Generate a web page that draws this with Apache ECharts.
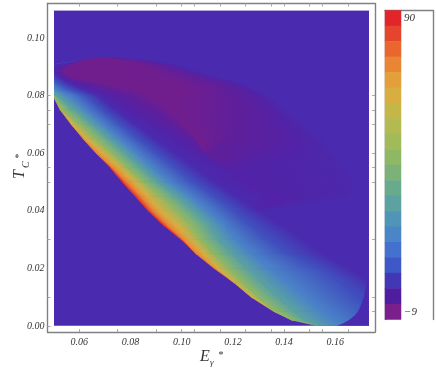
<!DOCTYPE html>
<html>
<head>
<meta charset="utf-8">
<style>
  html, body { margin: 0; padding: 0; background: #fff; }
  #chart { width: 436px; height: 376px; }
</style>
<script src="https://cdn.jsdelivr.net/npm/echarts@6/dist/echarts.min.js"></script>
</head>
<body>
<div id="chart"></div>
<script>
// all E and T values are in thousandths, the labels divide by 1000
var tRows = [0, 2, 5, 10, 15, 20, 25, 30, 35, 40, 45, 50, 55, 60, 65, 70, 75, 80, 82, 84, 86, 88, 90, 92, 93];

// contour lines, one E per row of tRows, left to right
var redLine = [153.2, 143.1, 136, 127.1, 120.4, 112.6, 105.6, 99.7, 92.7, 86.8, 81.8, 76.7, 72, 66.5, 61.4, 56.8, 52.5, 49.7, 48.6, 47, 44.6, 44.6, 44.6, 59.5, 66.1];
var orangeLine = [153.2, 143.1, 136, 127.1, 120.4, 112.6, 105.6, 100.5, 94.6, 88.8, 84.1, 78.6, 72.8, 66.5, 61.4, 56.8, 52.5, 49.7, 48.6, 47, 44.6, 44.6, 44.6, 59.5, 66.1];
var yellowLine = [153.2, 143.1, 136, 127.1, 120.4, 113.8, 108.7, 103.2, 97.8, 91.5, 86.4, 81.4, 75.5, 69.3, 62.2, 56.8, 52.5, 49.7, 48.6, 47, 44.6, 44.6, 44.6, 59.5, 66.1];
var greenLine = [153.2, 143.1, 136.4, 129.8, 123.9, 118.1, 112.6, 107.5, 103.7, 98.3, 91.9, 84.9, 79, 72.8, 66.5, 60.3, 53.2, 49.7, 48.6, 47, 44.6, 44.6, 44.6, 59.5, 66.1];
var tealLine = [153.2, 148.2, 144.3, 137.2, 131.4, 125.5, 119.6, 114.2, 110.3, 104.6, 98, 90.4, 84.1, 77.9, 71.6, 65, 58.3, 50.9, 48.6, 47, 44.6, 44.6, 44.6, 59.5, 66.1];
var blueLine = [162.2, 159.1, 154.8, 148.2, 141.5, 134.5, 127.5, 121.2, 116.6, 110.4, 103.7, 95.4, 88.8, 82.5, 75.9, 69.3, 62.6, 56, 50.9, 47.8, 46.2, 44.6, 44.6, 59.5, 66.1];
var darkBlueLine = [185.3, 179.4, 175.5, 167.7, 161.8, 153.2, 141.5, 133.7, 126.5, 120, 112.4, 104.4, 97.4, 89.9, 82.9, 75.9, 68.9, 62.6, 56.4, 52.5, 49.3, 47, 44.6, 59.5, 66.1];
var indigoLine = [200.9, 197, 193.1, 185.3, 175.5, 165.7, 156, 148.2, 139.6, 129.8, 121.6, 113, 105.2, 97.4, 89.6, 82.1, 74.3, 67.3, 61.8, 56.4, 52.5, 50.5, 46.2, 59.5, 66.1];
var purple1Line = [200.9, 197, 193.1, 185.3, 175.5, 165.7, 156, 148.2, 139.6, 129.8, 136.4, 124.7, 118.1, 107.1, 98.6, 89.6, 79.8, 72, 65.7, 59.1, 53.6, 51.3, 53.6, 59.9, 66.5];
var purple2Line = [200.9, 197, 193.1, 185.3, 175.5, 165.7, 156, 148.2, 139.6, 129.8, 136.4, 124.7, 118.1, 109.1, 105.2, 97.4, 89.6, 79.8, 72, 64.2, 55.6, 52.5, 54.4, 60.3, 66.9];
var purple3Line = [200.9, 197, 193.1, 185.3, 175.5, 165.7, 156, 148.2, 139.6, 129.8, 136.4, 124.7, 118.1, 109.1, 105.2, 101.3, 95.4, 87.6, 79.8, 71.2, 58.7, 54.2, 55.6, 61.4, 67.7];
var purple3EndLine = [200.9, 197, 193.1, 185.3, 175.5, 165.7, 156, 148.2, 139.6, 129.8, 136.4, 124.7, 118.1, 109.1, 105.2, 101.3, 97.4, 101.3, 102.5, 100.1, 95.4, 89.6, 85.7, 77.9, 71.2];
var purple2EndLine = [200.9, 197, 193.1, 185.3, 175.5, 165.7, 156, 148.2, 139.6, 129.8, 136.4, 124.7, 118.1, 109.1, 120.8, 120.8, 122.8, 120.8, 118.1, 114.2, 107.1, 99.3, 93.5, 83.7, 74];
var purple1EndLine = [200.9, 197, 193.1, 185.3, 175.5, 165.7, 156, 148.2, 139.6, 129.8, 136.4, 124.7, 118.1, 140.4, 144.3, 140.4, 136.4, 129.8, 126.7, 120.8, 112.6, 104.4, 97.8, 87.6, 75.9];
var outerLine = [200.9, 197, 193.1, 185.3, 175.5, 165.7, 156, 148.2, 139.6, 129.8, 165.7, 166.5, 163.4, 158.3, 153.6, 147, 140, 132.9, 128.6, 123.2, 115, 107.1, 100.5, 90.4, 77.9];

// right hand limit of the coloured region near the bottom
var boundaryT = [0, 1, 2, 3.5, 5, 7.5, 10, 15, 20, 25, 30];
var boundaryE = [160.7, 163.4, 165.4, 167.5, 168.9, 170.2, 171.2, 172.2, 172.8, 173.2, 173.4];

var lines = [redLine, orangeLine, yellowLine, greenLine, tealLine, blueLine, darkBlueLine, indigoLine,
  purple1Line, purple2Line, purple3Line, purple3EndLine, purple2EndLine, purple1EndLine, outerLine];
var lineColors = ['#e4352a', '#ea8535', '#d8ae40', '#8fb865', '#5ba2a0', '#4a82c8', '#4050be', '#4a2aae',
  '#5322a6', '#5f1f9b', '#701e8e', '#701e8e', '#5f1f9b', '#5322a6', '#4c28ab'];

var xLabelValues = [60, 80, 100, 120, 140, 160];
var xTickValues = [60, 75, 90, 100, 105, 115, 125, 135, 140, 150, 155, 165];
var yLabelValues = [0, 20, 40, 60, 80, 100];
var yTickLeft = [0, 10, 30, 50, 55, 70, 75, 80];
var yTickRight = [5, 10, 30, 50, 55, 60, 70, 75, 80];

var barLabels = ['90', '\u22129'];
var barColors = ['#e1252a', '#e5452d', '#e9662f', '#ea8535', '#e3a03a', '#d8ae40', '#c5b648', '#b3ba50', '#a1bb5a', '#8fb865',
  '#7cb277', '#68aa8c', '#5ba2a0', '#5095b5', '#4a85c5', '#4470cf', '#3f58c7', '#4237b5', '#4f1d9f', '#7a1f8c'];

var bgColor = '#4a2aae';
var frameColor = '#808080';
var tickColor = '#a8a8a8';
var labelFont = { fontFamily: 'Liberation Serif', fontStyle: 'italic', fontSize: 10, color: '#333' };

function fixed2(v) { return (v / 1000).toFixed(2); }

// one piece of band between contour i and i+1, rows j and j+1
function renderBand(params, api) {
  var i = api.value(0), j = api.value(1);
  var a = api.coord([lines[i][j], tRows[j]]);
  var b = api.coord([lines[i + 1][j], tRows[j]]);
  var c = api.coord([lines[i + 1][j + 1], tRows[j + 1]]);
  var d = api.coord([lines[i][j + 1], tRows[j + 1]]);
  var m1 = [(a[0] + d[0]) / 2, (a[1] + d[1]) / 2];
  var m2 = [(b[0] + c[0]) / 2, (b[1] + c[1]) / 2];
  // gradient runs across the band, not along it
  var dx = (a[0] - d[0] + b[0] - c[0]) / 2, dy = (a[1] - d[1] + b[1] - c[1]) / 2;
  var nx = dy, ny = -dx;
  var len = Math.sqrt(nx * nx + ny * ny) || 1;
  nx /= len; ny /= len;
  var w = (m2[0] - m1[0]) * nx + (m2[1] - m1[1]) * ny;
  var fill = new echarts.graphic.LinearGradient(m1[0], m1[1], m1[0] + nx * w, m1[1] + ny * w, [
    { offset: 0, color: lineColors[i] },
    { offset: 1, color: lineColors[i + 1] }
  ], true);
  return {
    type: 'polygon',
    shape: { points: [a, b, c, d] },
    style: { fill: fill, stroke: fill, lineWidth: 0.7 }
  };
}

function renderBoundary(params, api) {
  var pts = [];
  boundaryT.forEach(function (t, k) { pts.push(api.coord([boundaryE[k], t])); });
  pts.push(api.coord([180, boundaryT[boundaryT.length - 1]]));
  pts.push(api.coord([180, 0]));
  return { type: 'polygon', shape: { points: pts }, style: { fill: bgColor } };
}

var bandData = [];
for (var i = 0; i < lines.length - 1; i++) {
  for (var j = 0; j < tRows.length - 1; j++) {
    if (lines[i][j] !== lines[i + 1][j] || lines[i][j + 1] !== lines[i + 1][j + 1]) {
      bandData.push([i, j]);
    }
  }
}

var barData = barColors.map(function (c, k) { return [0, k, k]; });

var frameAxis = {
  gridIndex: 1,
  type: 'value',
  axisLine: { show: true, onZero: false, lineStyle: { color: frameColor, width: 1.4 } },
  splitLine: { show: false }
};

var chart = echarts.init(document.getElementById('chart'), null, { renderer: 'canvas' });
chart.setOption({
  animation: false,
  backgroundColor: '#fff',
  grid: [
    { left: 54, top: 10.5, width: 315, height: 315.3, show: true, backgroundColor: bgColor, borderWidth: 0 },
    { left: 47.5, top: 3.5, width: 327.5, height: 328.5 },
    { left: 385, top: 10.5, width: 48, height: 309 }
  ],
  visualMap: {
    type: 'piecewise', show: false, seriesIndex: 2, dimension: 2,
    pieces: barColors.map(function (c, k) { return { value: k, color: c }; })
  },
  xAxis: [
    { gridIndex: 0, type: 'value', min: 50.1, max: 173.2, position: 'top',
      axisLine: { show: true, onZero: false, lineStyle: { color: '#b3a6da', width: 1 } },
      axisTick: { show: false }, axisLabel: { show: false }, splitLine: { show: false } },
    Object.assign({}, frameAxis, { min: 47.6, max: 175.5, position: 'bottom',
      axisTick: { inside: true, length: 3, customValues: xTickValues, lineStyle: { color: tickColor } },
      axisLabel: Object.assign({ margin: 5, customValues: xLabelValues, formatter: fixed2 }, labelFont) }),
    Object.assign({}, frameAxis, { min: 47.6, max: 175.5, position: 'top',
      axisTick: { inside: true, length: 3, customValues: xTickValues, lineStyle: { color: tickColor } },
      axisLabel: { show: false } }),
    { gridIndex: 2, type: 'category', data: ['0', '1', '2'], position: 'top',
      axisLine: { show: true, lineStyle: { color: frameColor, width: 1.4 } },
      axisTick: { show: false }, axisLabel: { show: false } }
  ],
  yAxis: [
    { gridIndex: 0, type: 'value', min: 0, max: 109.5, show: false },
    Object.assign({}, frameAxis, { min: -2.1, max: 112, position: 'left',
      axisTick: { inside: true, length: 3, customValues: yTickLeft, lineStyle: { color: tickColor } },
      axisLabel: Object.assign({ margin: 3, customValues: yLabelValues, formatter: fixed2 }, labelFont) }),
    Object.assign({}, frameAxis, { min: -2.1, max: 112, position: 'right',
      axisTick: { inside: true, length: 3, customValues: yTickRight, lineStyle: { color: tickColor } },
      axisLabel: { show: false } }),
    { gridIndex: 2, type: 'category', inverse: true, position: 'left',
      data: barColors.map(function (c, k) { return k; }),
      axisLine: { show: true, lineStyle: { color: frameColor, width: 1.4 } },
      axisTick: { show: false },
      axisLabel: Object.assign({ inside: true, margin: 19, interval: 0, formatter: function (v, k) {
        if (k === 0) return barLabels[0];
        if (k === barColors.length - 1) return barLabels[1];
        return '';
      } }, labelFont, { fontSize: 11 }) },
    { gridIndex: 2, type: 'category', inverse: true, position: 'right',
      data: barColors.map(function (c, k) { return k; }),
      axisLine: { show: true, lineStyle: { color: frameColor, width: 1.4 } },
      axisTick: { show: false }, axisLabel: { show: false } }
  ],
  series: [
    { type: 'custom', xAxisIndex: 0, yAxisIndex: 0, clip: true, renderItem: renderBand, data: bandData, silent: true },
    { type: 'custom', xAxisIndex: 0, yAxisIndex: 0, clip: true, renderItem: renderBoundary, data: [[0, 0]], silent: true },
    { type: 'heatmap', xAxisIndex: 3, yAxisIndex: 3, data: barData, silent: true }
  ],
  graphic: [
    { type: 'text', x: 200, y: 349, style: { text: 'E', font: 'italic 16px "Liberation Serif"', fill: '#333' } },
    { type: 'text', x: 210, y: 358, style: { text: '\u03b3', font: 'italic 9px "Liberation Serif"', fill: '#333' } },
    { type: 'text', x: 218, y: 350, style: { text: '*', font: 'italic 10px "Liberation Serif"', fill: '#333' } },
    { type: 'text', x: 12, y: 179, rotation: Math.PI / 2, style: { text: 'T', font: 'italic 16px "Liberation Serif"', fill: '#333' } },
    { type: 'text', x: 21, y: 168, rotation: Math.PI / 2, style: { text: 'C', font: 'italic 10px "Liberation Serif"', fill: '#333' } },
    { type: 'text', x: 14, y: 159, rotation: Math.PI / 2, style: { text: '*', font: 'italic 10px "Liberation Serif"', fill: '#333' } }
  ]
});
</script>
</body>
</html>
